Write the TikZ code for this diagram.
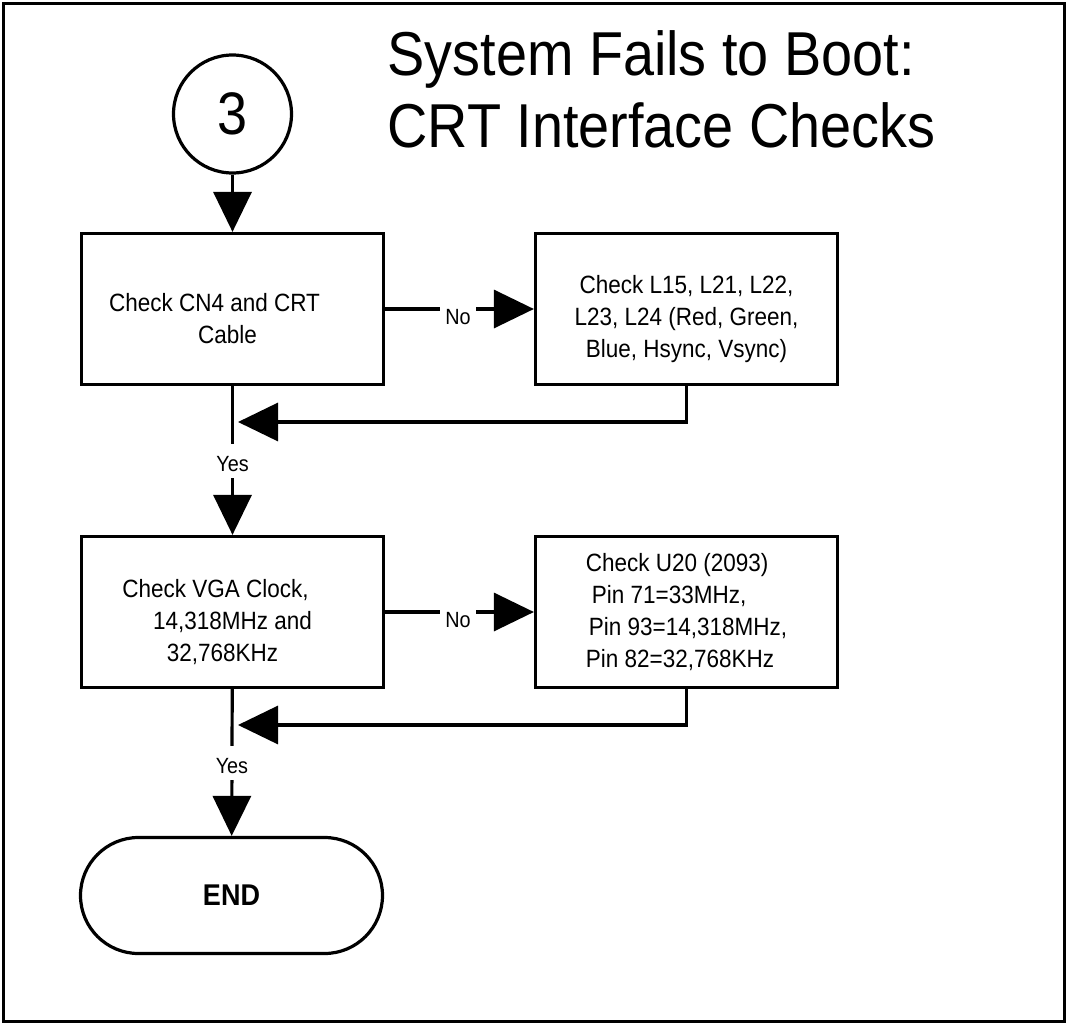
\documentclass[tikz,border=0pt]{standalone}
\usepackage{fontspec}
\newfontfamily\fa[FakeStretch=0.9]{Liberation Sans}
\usetikzlibrary{arrows.meta}
\newcommand\tup{\rule{0pt}{38pt}}
\begin{document}
\begin{tikzpicture}[x=1pt,y=-1pt,line width=3.2pt,
  box/.style={draw,rectangle,minimum width=302pt,minimum height=151pt,align=center,
    font=\fa\fontsize{25}{32}\selectfont,inner sep=0pt},
  arr/.style={-{Triangle[length=40pt,width=38pt]}},
  lbl/.style={fill=white,font=\fa\fontsize{22}{24}\selectfont,inner xsep=5pt,
    inner ysep=6pt,text height=22pt,text depth=0pt}]
\useasboundingbox (0,0) rectangle (1068,1025);
\draw[line width=3pt] (3.5,3.5) rectangle (1064.5,1021.5);
% title
\node[anchor=base west,align=left,inner sep=0pt,font=\fa\fontsize{62}{72}\selectfont]
  (title) at (386,147) {System Fails to Boot:\\CRT Interface Checks};
% connector start
\node[circle,draw,minimum size=118pt,inner sep=0pt,font=\fa\fontsize{60}{60}\selectfont]
  (c) at (232.5,114) {3};
% boxes
\node[box] (b1) at (232.5,309) {\tup Check CN4 and CRT\hspace*{36pt}\\Cable\hspace*{10pt}};
\node[box] (b2) at (686.5,309) {\tup Check L15, L21, L22,\\L23, L24 (Red, Green,\\Blue, Hsync, Vsync)};
\node[box] (b3) at (232.5,612) {\tup Check VGA Clock,\hspace*{34pt}\\14,318MHz and\hspace*{26pt}\\32,768KHz\hspace*{20pt}};
\node[box,align=left] (b4) at (686.5,612) {Check U20 (2093)\\\hspace*{6pt}Pin 71=33MHz,\\\hspace*{3pt}Pin 93=14,318MHz,\\Pin 82=32,768KHz};
\node[draw,rounded corners=58pt,minimum width=302pt,minimum height=116pt,inner sep=0pt,
  font=\fa\bfseries\fontsize{30}{34}\selectfont] (end) at (231.5,895.5) {END};
% junctions
\coordinate (j1) at (238,422);
\coordinate (j2) at (238,725);
% connectors
\draw[arr] (c) -- (b1);
\draw[arr] (b1) -- (b2) node[lbl,pos=0.49,yshift=-4.5pt] {No};
\draw[arr] (b1) -- (b3) node[lbl,pos=0.5] {Yes};
\draw[arr] (b2.south) |- (j1);
\draw[arr] (b3) -- (b4) node[lbl,pos=0.49,yshift=-4.5pt] {No};
\draw[arr] (b3) -- (end) node[lbl,pos=0.5] {Yes};
\draw[arr] (b4.south) |- (j2);
\end{tikzpicture}
\end{document}
